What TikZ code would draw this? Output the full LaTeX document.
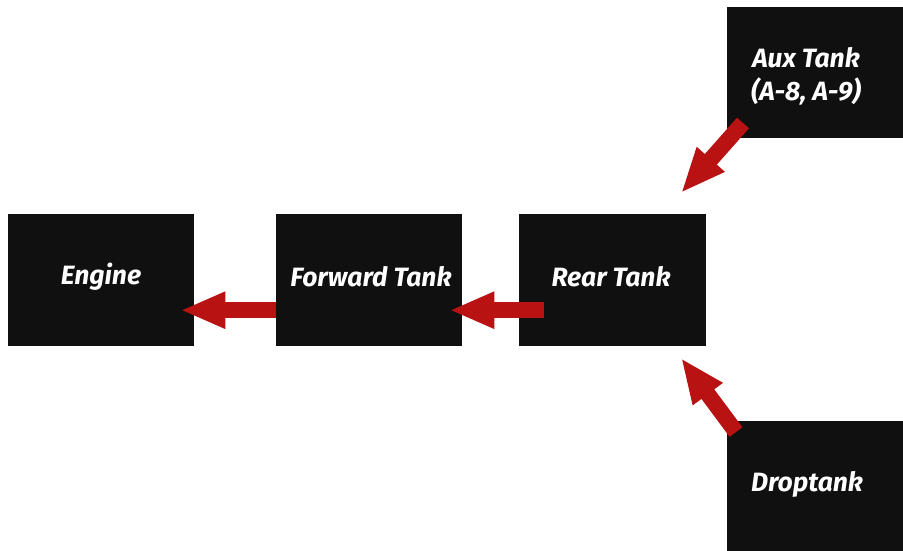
\documentclass[tikz,border=0pt]{standalone}
\usepackage{fontspec}
\setmainfont{Fira Sans}
\usetikzlibrary{arrows.meta}
\definecolor{boxblack}{RGB}{17,16,17}
\definecolor{arrowred}{RGB}{184,18,18}
\tikzset{
  tankbox/.style={fill=boxblack, draw=none, inner sep=0pt, anchor=north west},
  tanktext/.style={text=white, font=\fontsize{26.5}{33}\selectfont\bfseries\itshape, align=center, inner sep=0pt},
  flowarrow/.style={draw=arrowred, line width=16pt, line cap=butt,
    -{Triangle[length=45pt,width=34pt]}}
}
\begin{document}
\begin{tikzpicture}[x=1pt,y=-1pt]
\useasboundingbox (0,0) rectangle (903,551);
% boxes
\node[tankbox, minimum width=186pt, minimum height=132pt] (engine) at (8,214) {};
\node[tankbox, minimum width=186pt, minimum height=132pt] (fwd) at (276,214) {};
\node[tankbox, minimum width=187pt, minimum height=132pt] (rear) at (519,214) {};
\node[tankbox, minimum width=190pt, minimum height=131pt] (aux) at (727,7) {};
\node[tankbox, minimum width=190pt, minimum height=140pt] (drop) at (727,421) {};
% texts
\node[tanktext] (enginet) at (101,277) {Engine};
\node[tanktext] (fwdt) at (371,277) {Forward Tank};
\node[tanktext] (reart) at (611,277) {Rear Tank};
\node[tanktext] (auxt) at (806,76) {Aux Tank\\(A-8, A-9)};
\node[tanktext] (dropt) at (807,484) {Droptank};
% arrow end points
\coordinate (e1) at ([yshift=-30pt]fwd.west);
\coordinate (e2) at ([xshift=-14pt,yshift=-30pt]engine.east);
\coordinate (r1) at ([xshift=25pt,yshift=-30pt]rear.west);
\coordinate (r2) at ([xshift=-13pt,yshift=-30pt]fwd.east);
\coordinate (a1) at (743,123);
\coordinate (a2) at (681,193);
\coordinate (d1) at (736,432);
\coordinate (d2) at (681,358);
% arrows
\draw[flowarrow] (e1) -- (e2);
\draw[flowarrow] (r1) -- (r2);
\draw[flowarrow] (a1) -- (a2);
\draw[flowarrow] (d1) -- (d2);
\end{tikzpicture}
\end{document}
